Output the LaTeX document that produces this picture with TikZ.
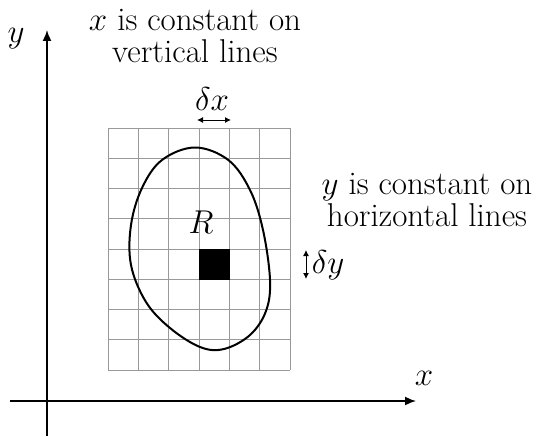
\RequirePackage{fix-cm}
\documentclass[tikz,border=0pt]{standalone}
\usetikzlibrary{arrows.meta}
\begin{document}
\begin{tikzpicture}[x=1pt,y=-1pt,
  lbl/.style={inner sep=0pt,font=\fontsize{33}{32}\selectfont,align=center},
  axis/.style={line width=1.6pt,-{Latex[length=11pt,width=9pt]}},
  gridline/.style={draw=gray!80,line width=0.9pt},
  dblarrow/.style={line width=1pt,{Latex[length=6pt,width=6pt]}-{Latex[length=6pt,width=6pt]}}]
\useasboundingbox (0,0) rectangle (537,436);
% grid
\foreach \i in {0,...,6} \draw[gridline] (108+30.33*\i,128) -- (108+30.33*\i,370);
\foreach \j in {0,...,8} \draw[gridline] (108,128+30.25*\j) -- (290,128+30.25*\j);
% black cell
\fill (199,249) rectangle (229.5,279.5);
% curve
\draw[line width=2pt] plot[smooth cycle,tension=0.6] coordinates {
 (195,147.5) (228.3,160) (250,190) (263,230) (270,280) (266,311)
 (250,335) (224,349) (200,347) (170,328) (146,302) (131,265)
 (131,225) (142,188) (162,160)};
% axes
\coordinate (xs) at (10,401);
\coordinate (xe) at (416,401);
\coordinate (ys) at (47,436);
\coordinate (ye) at (47,30);
\draw[axis] (xs) -- (xe);
\draw[axis] (ys) -- (ye);
\node[lbl] (ylab) at (16,39) {$y$};
\node[lbl] (xlab) at (424,378) {$x$};
% labels
\node[lbl] (top) at (195,36) {$x$ is constant on\\vertical lines};
\node[lbl] (right) at (427,200) {$y$ is constant on\\horizontal lines};
\node[lbl] (R) at (201,222) {$R$};
\node[lbl] (dx) at (212,99) {$\delta x$};
\node[lbl] (dy) at (328,265) {$\delta y$};
\coordinate (dxa) at (197,120);
\coordinate (dxb) at (231,120);
\coordinate (dya) at (306,250);
\coordinate (dyb) at (306,279);
\draw[dblarrow] (dxa) -- (dxb);
\draw[dblarrow] (dya) -- (dyb);
\end{tikzpicture}
\end{document}
